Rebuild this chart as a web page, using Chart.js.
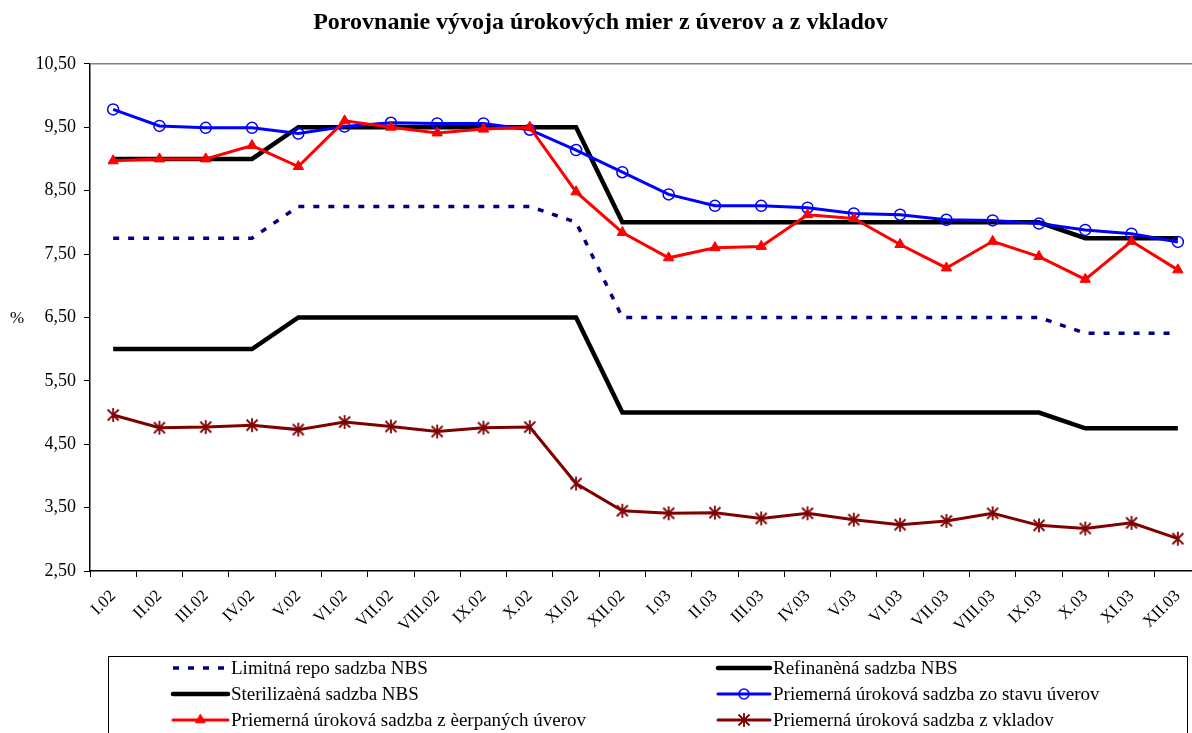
<!DOCTYPE html>
<html>
<head>
<meta charset="utf-8">
<script src="https://cdn.jsdelivr.net/npm/chart.js@4/dist/chart.umd.min.js"></script>
<style>
  html, body { margin: 0; padding: 0; background: #fff; overflow: hidden; }
  #wrap { width: 1210px; height: 733px; }
</style>
</head>
<body>
<div id="wrap"><canvas id="chart" width="1210" height="733"></canvas></div>
<script>
// mesiace
const months = ['I.02', 'II.02', 'III.02', 'IV.02', 'V.02', 'VI.02', 'VII.02', 'VIII.02', 'IX.02', 'X.02', 'XI.02', 'XII.02',
  'I.03', 'II.03', 'III.03', 'IV.03', 'V.03', 'VI.03', 'VII.03', 'VIII.03', 'IX.03', 'X.03', 'XI.03', 'XII.03'];

// sadzby NBS
const repoLimit = [7.75, 7.75, 7.75, 7.75, 8.25, 8.25, 8.25, 8.25, 8.25, 8.25, 8.0, 6.5,
  6.5, 6.5, 6.5, 6.5, 6.5, 6.5, 6.5, 6.5, 6.5, 6.25, 6.25, 6.25];
const refinRate = [9.0, 9.0, 9.0, 9.0, 9.5, 9.5, 9.5, 9.5, 9.5, 9.5, 9.5, 8.0,
  8.0, 8.0, 8.0, 8.0, 8.0, 8.0, 8.0, 8.0, 8.0, 7.75, 7.75, 7.75];
const sterilRate = [6.0, 6.0, 6.0, 6.0, 6.5, 6.5, 6.5, 6.5, 6.5, 6.5, 6.5, 5.0,
  5.0, 5.0, 5.0, 5.0, 5.0, 5.0, 5.0, 5.0, 5.0, 4.75, 4.75, 4.75];

// priemerne urokove sadzby
const loanStock = [9.78, 9.52, 9.49, 9.49, 9.40, 9.51, 9.57, 9.56, 9.56, 9.46, 9.14, 8.79,
  8.44, 8.26, 8.26, 8.23, 8.14, 8.12, 8.04, 8.03, 7.98, 7.88, 7.82, 7.69];
const loanNew = [8.97, 9.0, 9.0, 9.21, 8.88, 9.60, 9.50, 9.41, 9.47, 9.50, 8.48, 7.84,
  7.44, 7.60, 7.62, 8.12, 8.06, 7.65, 7.28, 7.70, 7.46, 7.10, 7.70, 7.25];
const deposits = [4.96, 4.76, 4.77, 4.80, 4.73, 4.85, 4.78, 4.70, 4.76, 4.77, 3.88, 3.45,
  3.41, 3.42, 3.33, 3.41, 3.31, 3.23, 3.29, 3.41, 3.22, 3.17, 3.26, 3.01];

const SERIF = '"Liberation Serif", "Times New Roman", serif';

// hviezdickovy marker (ako v Exceli)
function makeStar(color) {
  const c = document.createElement('canvas');
  c.width = 16; c.height = 16;
  const g = c.getContext('2d');
  g.strokeStyle = color;
  g.lineWidth = 1.8;
  g.beginPath();
  g.moveTo(2.5, 2.5); g.lineTo(13.5, 13.5);
  g.moveTo(13.5, 2.5); g.lineTo(2.5, 13.5);
  g.moveTo(8, 1); g.lineTo(8, 15);
  g.stroke();
  return c;
}
const starImg = makeStar('#800000');

const datasets = [
  { label: 'Limitná repo sadzba NBS', data: repoLimit, borderColor: '#000080', borderWidth: 3.5,
    borderDash: [6, 9], pointRadius: 0, order: 6, legendCol: 0, legendRow: 0 },
  { label: 'Refinanèná sadzba NBS', data: refinRate, borderColor: '#000000', borderWidth: 4.5,
    pointRadius: 0, order: 5, legendCol: 1, legendRow: 0 },
  { label: 'Sterilizaèná sadzba NBS', data: sterilRate, borderColor: '#000000', borderWidth: 4.5,
    pointRadius: 0, order: 4, legendCol: 0, legendRow: 1 },
  { label: 'Priemerná úroková sadzba zo stavu úverov', data: loanStock, borderColor: '#0000ff', borderWidth: 3,
    pointStyle: 'circle', pointRadius: 5.5, pointBorderWidth: 1.5, pointBackgroundColor: 'rgba(0,0,0,0)',
    pointBorderColor: '#0000ff', order: 3, legendCol: 1, legendRow: 1 },
  { label: 'Priemerná úroková sadzba z èerpaných úverov', data: loanNew, borderColor: '#ff0000', borderWidth: 3,
    pointStyle: 'triangle', pointRadius: 6, pointBorderWidth: 1, pointBackgroundColor: '#ff0000',
    pointBorderColor: '#ff0000', order: 2, legendCol: 0, legendRow: 2 },
  { label: 'Priemerná úroková sadzba z vkladov', data: deposits, borderColor: '#800000', borderWidth: 3,
    pointStyle: starImg, pointRadius: 8, pointBorderWidth: 1, pointBackgroundColor: '#800000',
    pointBorderColor: '#800000', order: 1, legendCol: 1, legendRow: 2 }
];
datasets.forEach(d => { d.tension = 0; d.fill = false; d.pointHoverRadius = d.pointRadius; });

// ram hore, znak % a legenda v ramceku
const extrasPlugin = {
  id: 'extras',
  afterDraw(chart) {
    const ctx = chart.ctx;
    const area = chart.chartArea;
    ctx.save();
    ctx.strokeStyle = '#808080';
    ctx.lineWidth = 1.5;
    ctx.beginPath();
    ctx.moveTo(area.left, area.top);
    ctx.lineTo(chart.width, area.top);
    ctx.stroke();

    ctx.fillStyle = '#000';
    ctx.font = '17px ' + SERIF;
    ctx.textAlign = 'left';
    ctx.textBaseline = 'middle';
    ctx.fillText('%', 10, 319);

    // legenda
    ctx.strokeStyle = '#000';
    ctx.lineWidth = 1;
    ctx.strokeRect(108.5, 656.5, 1079, 100);
    const colX = [[173, 228, 231], [718, 770, 773]];
    const rowY = [668, 694, 720];
    chart.data.datasets.forEach(d => {
      const [x1, x2, tx] = colX[d.legendCol];
      const y = rowY[d.legendRow];
      ctx.save();
      ctx.strokeStyle = d.borderColor;
      ctx.lineWidth = d.borderWidth;
      ctx.setLineDash(d.borderDash || []);
      ctx.lineCap = d.borderDash ? 'butt' : 'round';
      ctx.beginPath();
      ctx.moveTo(x1, y);
      ctx.lineTo(x2, y);
      ctx.stroke();
      ctx.setLineDash([]);
      if (d.pointRadius > 0) {
        ctx.fillStyle = d.pointBackgroundColor;
        ctx.strokeStyle = d.pointBorderColor;
        ctx.lineWidth = d.pointBorderWidth;
        Chart.helpers.drawPoint(ctx, {
          pointStyle: d.pointStyle, radius: d.pointRadius - 0.5, rotation: 0, borderWidth: d.pointBorderWidth
        }, (x1 + x2) / 2, y);
      }
      ctx.restore();
      ctx.fillStyle = '#000';
      ctx.font = '19px ' + SERIF;
      ctx.textBaseline = 'middle';
      ctx.fillText(d.label, tx, y + 1);
    });
    ctx.restore();
  }
};

new Chart(document.getElementById('chart'), {
  type: 'line',
  data: { labels: months, datasets: datasets },
  options: {
    responsive: false,
    animation: false,
    layout: { padding: { left: 0, right: 9, top: 0, bottom: 0 } },
    plugins: {
      legend: { display: false },
      tooltip: { enabled: false },
      title: {
        display: true,
        text: 'Porovnanie vývoja úrokových mier z úverov a z vkladov',
        color: '#000',
        font: { family: SERIF, size: 24, weight: 'bold', lineHeight: 1.2 },
        padding: { top: 8, bottom: 27 }
      }
    },
    scales: {
      x: {
        offset: true,
        afterFit(scale) { scale.height = 162; },
        grid: { display: true, offset: true, drawOnChartArea: false, color: '#000', tickLength: 6, lineWidth: 1 },
        border: { display: true, color: '#000', width: 1.5 },
        ticks: {
          color: '#000', font: { family: SERIF, size: 17 },
          minRotation: 45, maxRotation: 45, autoSkip: false, padding: 9
        }
      },
      y: {
        min: 2.5, max: 10.5,
        afterFit(scale) { scale.width = 90; },
        grid: { display: true, drawOnChartArea: false, color: '#000', tickLength: 6, lineWidth: 1 },
        border: { display: true, color: '#000', width: 1.5 },
        ticks: {
          stepSize: 1, color: '#000', font: { family: SERIF, size: 18 }, padding: 8,
          callback: v => v.toFixed(2).replace('.', ',')
        }
      }
    }
  },
  plugins: [extrasPlugin]
});
</script>
</body>
</html>
